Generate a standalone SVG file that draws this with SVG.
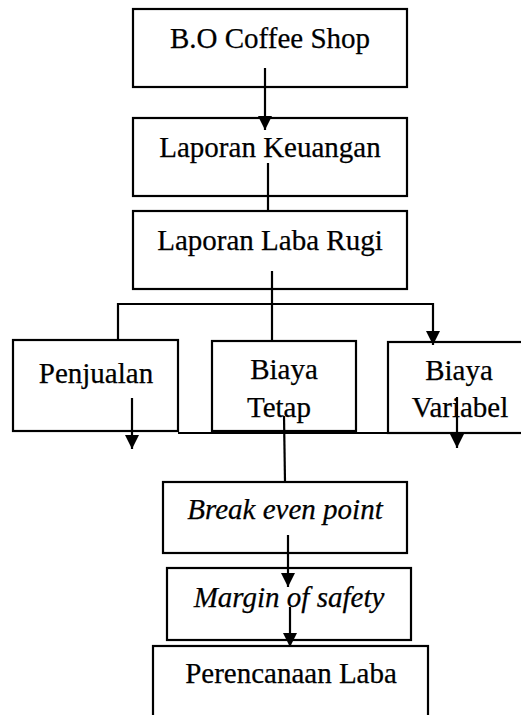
<svg xmlns="http://www.w3.org/2000/svg" width="521" height="715" viewBox="0 0 521 715">
<defs>
<style>
.box{fill:#fff;stroke:#000;stroke-width:2.2}
.t{font-family:'Liberation Serif','Times New Roman',serif;font-size:29px;fill:#000;stroke:#000;stroke-width:0.25;text-anchor:middle}
.i{font-style:italic}
.c{stroke:#000;stroke-width:2.2;fill:none}
</style>
<marker id="ah" markerWidth="14" markerHeight="14" refX="14" refY="7" orient="auto" markerUnits="userSpaceOnUse">
<path d="M0,0 L14,7 L0,14 Z" fill="#000"/>
</marker>
</defs>
<rect width="521" height="715" fill="#fff"/>
<g id="n1"><rect class="box" x="133" y="9" width="274" height="78"/><text class="t" x="270" y="48">B.O Coffee Shop</text></g>
<g id="n2"><rect class="box" x="133" y="118" width="274" height="78"/><text class="t" x="270" y="157">Laporan Keuangan</text></g>
<g id="n3"><rect class="box" x="133" y="211" width="274" height="78"/><text class="t" x="270" y="250">Laporan Laba Rugi</text></g>
<g id="n4"><rect class="box" x="13" y="340" width="165" height="91"/><text class="t" x="96" y="383">Penjualan</text></g>
<g id="n5"><rect class="box" x="212" y="341" width="144" height="90"/><text class="t" x="284" y="379">Biaya</text><text class="t" x="279" y="417">Tetap</text></g>
<g id="n6"><rect class="box" x="388" y="342" width="140" height="91"/><text class="t" x="459" y="380">Biaya</text><text class="t" x="460" y="417">Variabel</text></g>
<g id="n7"><rect class="box" x="163" y="482" width="244" height="71"/><text class="t i" x="285" y="519">Break even point</text></g>
<g id="n8"><rect class="box" x="167" y="568" width="244" height="72"/><text class="t i" x="289" y="607">Margin of safety</text></g>
<g id="n9"><rect class="box" x="153" y="646" width="275" height="80"/><text class="t" x="291" y="683">Perencanaan Laba</text></g>
<g id="connectors">
<line class="c" x1="265" y1="68" x2="265" y2="130" marker-end="url(#ah)"/>
<line class="c" x1="268" y1="163" x2="268" y2="211"/>
<line class="c" x1="272" y1="271" x2="272" y2="341"/>
<polyline class="c" points="118,340 118,304 433,304 433,345" marker-end="url(#ah)"/>
<line class="c" x1="178" y1="433" x2="521" y2="433"/>
<line class="c" x1="132" y1="398" x2="132" y2="449" marker-end="url(#ah)"/>
<line class="c" x1="457" y1="397" x2="457" y2="448" marker-end="url(#ah)"/>
<line class="c" x1="284" y1="416" x2="285" y2="482"/>
<line class="c" x1="288" y1="535" x2="288" y2="587" marker-end="url(#ah)"/>
<line class="c" x1="290" y1="607" x2="290" y2="647" marker-end="url(#ah)"/>
</g>
</svg>
